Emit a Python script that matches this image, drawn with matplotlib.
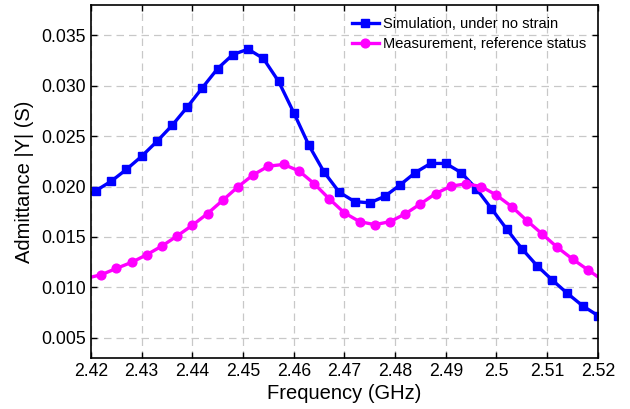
import matplotlib
matplotlib.use("Agg")
import matplotlib.pyplot as plt
import numpy as np
from matplotlib.ticker import FuncFormatter, MultipleLocator

plt.rcParams["font.family"] = ["Liberation Sans", "DejaVu Sans"]

# Simulation, under no strain (points every 3 MHz; first one lies just left of the axes)
sim_freq = [2.418, 2.421, 2.424, 2.427, 2.430, 2.433, 2.436, 2.439, 2.442, 2.445,
            2.448, 2.451, 2.454, 2.457, 2.460, 2.463, 2.466, 2.469, 2.472, 2.475,
            2.478, 2.481, 2.484, 2.487, 2.490, 2.493, 2.496, 2.499, 2.502, 2.505,
            2.508, 2.511, 2.514, 2.517, 2.520]
sim_y = [0.0187, 0.0196, 0.02053, 0.0217, 0.0230, 0.02447, 0.02606, 0.02788, 0.02981, 0.0317,
         0.03309, 0.03362, 0.0327, 0.03044, 0.02733, 0.02408, 0.02142, 0.01943, 0.01851, 0.01838,
         0.01904, 0.02017, 0.02139, 0.02229, 0.02229, 0.02139, 0.0198, 0.01781, 0.01579, 0.01384,
         0.01215, 0.01073, 0.0094, 0.00817, 0.00721]

# Measurement, reference status
meas_freq = [2.419, 2.422, 2.425, 2.428, 2.431, 2.434, 2.437, 2.440, 2.443, 2.446,
             2.449, 2.452, 2.455, 2.458, 2.461, 2.464, 2.467, 2.470, 2.473, 2.476,
             2.479, 2.482, 2.485, 2.488, 2.491, 2.494, 2.497, 2.500, 2.503, 2.506,
             2.509, 2.512, 2.515, 2.518, 2.521]
meas_y = [0.0109, 0.01125, 0.01188, 0.01248, 0.01324, 0.0141, 0.0151, 0.01616, 0.01732, 0.01864,
          0.01997, 0.02116, 0.02202, 0.02219, 0.02156, 0.0203, 0.01878, 0.01739, 0.01652, 0.01622,
          0.01652, 0.01729, 0.01828, 0.0193, 0.02003, 0.02027, 0.0200, 0.01914, 0.01801, 0.01662,
          0.0153, 0.01397, 0.01281, 0.01175, 0.0107]

fig = plt.figure(figsize=(6.3, 4.09), dpi=100)
ax = fig.add_axes([0.1444, 0.1247, 0.8046, 0.8631])

ax.plot(sim_freq, sim_y, color="#0000FF", linewidth=2.4, marker="s", markersize=6.3,
        label="Simulation, under no strain")
ax.plot(meas_freq, meas_y, color="#FF00FF", linewidth=2.4, marker="o", markersize=6.3,
        label="Measurement, reference status")

ax.set_xlim(2.42, 2.52)
ax.set_ylim(0.003, 0.038)
ax.xaxis.set_major_locator(MultipleLocator(0.01))
ax.yaxis.set_major_locator(MultipleLocator(0.005))
ax.xaxis.set_major_formatter(FuncFormatter(lambda v, _: f"{round(v, 3):g}"))
ax.yaxis.set_major_formatter(FuncFormatter(lambda v, _: f"{v:.3f}"))
ax.tick_params(direction="in", top=True, right=True, labelsize=12.7, length=4, width=1)
ax.grid(color="#C8C8C8", linestyle=(0, (6, 4)), linewidth=0.9)
for spine in ax.spines.values():
    spine.set_linewidth(1.2)

ax.set_xlabel("Frequency (GHz)", fontsize=14.5, labelpad=3)
ax.set_ylabel("Admittance |Y| (S)", fontsize=14.5, labelpad=5)

ax.legend(loc="upper right", frameon=False, fontsize=10.5, handlelength=1.9,
          handletextpad=0.25, borderaxespad=0.4, labelspacing=0.45)

fig.savefig("out.png", dpi=100)
